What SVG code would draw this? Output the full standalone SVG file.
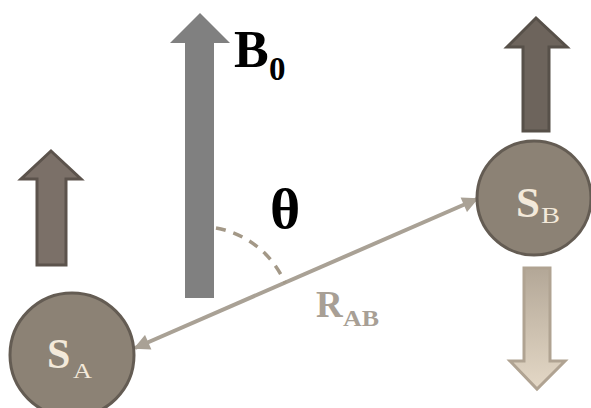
<svg xmlns="http://www.w3.org/2000/svg" width="591" height="408" viewBox="0 0 591 408">
<defs>
<style>
.serif{font-family:"Liberation Serif","Times New Roman",serif;font-weight:bold}
.reg{font-family:"Liberation Serif","Times New Roman",serif;font-weight:normal}
.lbl{fill:#f3e9da}
.spin{stroke-width:3;stroke-linejoin:miter}
</style>
<linearGradient id="down" x1="0" y1="0" x2="0" y2="1">
<stop offset="0" stop-color="#b3a797"/>
<stop offset="1" stop-color="#e4d8c6"/>
</linearGradient>
<marker id="ah" viewBox="0 0 10 10" refX="9" refY="5" markerWidth="4.5" markerHeight="4" orient="auto-start-reverse" markerUnits="strokeWidth">
<path d="M0,0 L10,5 L0,10 z" fill="#a9a195"/>
</marker>
</defs>
<rect width="591" height="408" fill="#ffffff"/>
<g id="B0">
<polygon points="200,13 230,43 214,43 214,298 185,298 185,43 170,43" fill="#808080"/>
<text class="serif" x="234" y="67" font-size="52" fill="#000">B</text>
<text class="serif" x="269" y="80" font-size="33" fill="#000">0</text>
</g>
<g id="spinA-up">
<polygon class="spin" points="51,151 81,179 66,179 66,265 37,265 37,179 21,179" fill="#7b7068" stroke="#5c534c"/>
</g>
<g id="spinB-up">
<polygon class="spin" points="536,18 567,47 549,47 549,131 523,131 523,47 507,47" fill="#6d645c" stroke="#575049"/>
</g>
<g id="spinB-down">
<polygon class="spin" points="524,268 550,268 550,361 565,361 537,389 510,361 524,361" fill="url(#down)" stroke="#b0a392"/>
</g>
<g id="connectors">
<line x1="135" y1="348" x2="477" y2="199" stroke="#a9a195" stroke-width="4" marker-start="url(#ah)" marker-end="url(#ah)"/>
<path d="M216,228 A93,93 0 0 1 285,283" fill="none" stroke="#a39887" stroke-width="3.5" stroke-dasharray="10,8"/>
</g>
<g id="theta">
<text class="serif" x="270" y="228" font-size="58" fill="#000">θ</text>
</g>
<g id="RAB">
<text class="serif" x="316" y="317" font-size="37" fill="#a89f95">R</text>
<text class="serif" x="343" y="326" font-size="24" fill="#a89f95" textLength="36" lengthAdjust="spacingAndGlyphs">AB</text>
</g>
<g id="SB">
<circle cx="534" cy="198" r="57" fill="#8c8275" stroke="#645c53" stroke-width="3"/>
<text class="serif lbl" x="516" y="217" font-size="43">S</text>
<text class="reg lbl" x="541" y="223" font-size="24" textLength="19" lengthAdjust="spacingAndGlyphs">B</text>
</g>
<g id="SA">
<circle cx="72" cy="355" r="62" fill="#8c8275" stroke="#645c53" stroke-width="3"/>
<text class="serif lbl" x="47" y="368" font-size="42">S</text>
<text class="reg lbl" x="73" y="378" font-size="21" textLength="19" lengthAdjust="spacingAndGlyphs">A</text>
</g>
</svg>
